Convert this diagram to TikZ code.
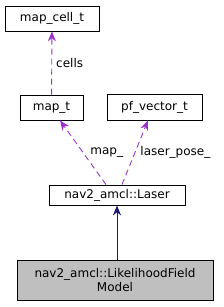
\documentclass[tikz,border=0pt]{standalone}
\usepackage{fontspec}
\setmainfont{DejaVu Sans}
\usetikzlibrary{arrows.meta}
\definecolor{usecol}{HTML}{9A32CD}
\definecolor{inhcol}{HTML}{191970}
\definecolor{curfill}{HTML}{BFBFBF}
\tikzset{
  cls/.style={draw=black, fill=white, line width=0.8pt, inner sep=0pt, align=center, font=\fontsize{12}{14}\selectfont},
  uses/.style={usecol, line width=0.9pt, dash pattern=on 6pt off 4pt, -{Stealth[length=10pt,width=8pt]}},
  inherits/.style={inhcol, line width=0.9pt, -{Stealth[length=10pt,width=8pt]}},
  lbl/.style={text=black, inner sep=0pt, font=\fontsize{12}{14}\selectfont}
}
\begin{document}
\begin{tikzpicture}[x=1pt, y=-1pt]
\useasboundingbox (0,0) rectangle (224,307);
\node[cls, minimum width=94pt, minimum height=25pt] (cell) at (52,18.5) {map\_cell\_t};
\node[cls, minimum width=63pt, minimum height=25pt] (map) at (51.5,107.5) {map\_t};
\node[cls, minimum width=95pt, minimum height=26pt] (pfvec) at (154.5,107) {pf\_vector\_t};
\node[cls, minimum width=136pt, minimum height=20pt] (laser) at (117,195) {nav2\_amcl::Laser};
\node[cls, fill=curfill, minimum width=196pt, minimum height=40pt] (lfm) at (115,280) {nav2\_amcl::LikelihoodField\\Model};
\draw[uses] (map) -- (cell) node[lbl, pos=0.5, anchor=west, xshift=4pt] (cellslbl) {cells};
\draw[uses] ([xshift=-11pt]laser.north) -- ([xshift=8.5pt]map.south) node[lbl, pos=0.5, anchor=west, xshift=7pt] (maplbl) {map\_};
\draw[uses] ([xshift=5pt]laser.north) -- ([xshift=-6.5pt]pfvec.south) node[lbl, pos=0.5, anchor=west, xshift=5pt] (poselbl) {laser\_pose\_};
\draw[inherits] (lfm.north -| laser.south) -- (laser.south);
\end{tikzpicture}
\end{document}
